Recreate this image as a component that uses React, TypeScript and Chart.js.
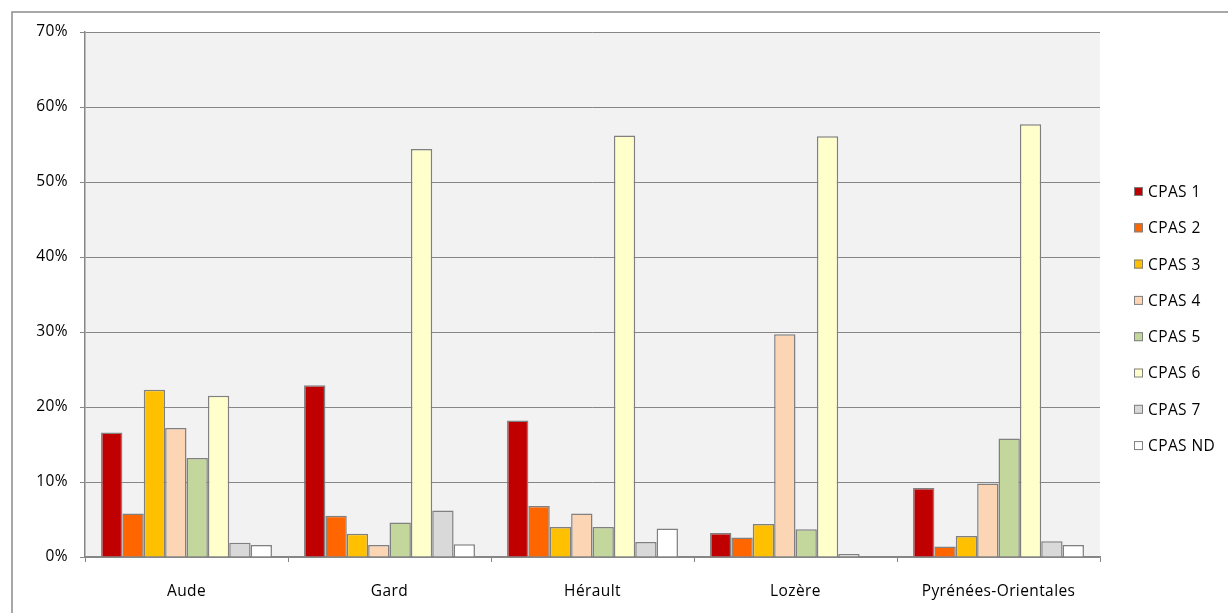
import React, { useEffect, useRef } from "react";
import { Chart, registerables } from "chart.js";

Chart.register(...registerables);

const categories = ["Aude", "Gard", "Hérault", "Lozère", "Pyrénées-Orientales"];
const seriesNames = ["CPAS 1", "CPAS 2", "CPAS 3", "CPAS 4", "CPAS 5", "CPAS 6", "CPAS 7", "CPAS ND"];
const cpas1 = [16.6, 22.9, 18.2, 3.2, 9.2];
const cpas2 = [5.8, 5.5, 6.8, 2.6, 1.4];
const cpas3 = [22.3, 3.1, 4.0, 4.4, 2.8];
const cpas4 = [17.2, 1.6, 5.8, 29.7, 9.8];
const cpas5 = [13.2, 4.6, 4.0, 3.7, 15.8];
const cpas6 = [21.5, 54.4, 56.2, 56.1, 57.7];
const cpas7 = [1.9, 6.2, 2.0, 0.4, 2.1];
const cpasND = [1.6, 1.7, 3.8, 0, 1.6];
const seriesValues = [cpas1, cpas2, cpas3, cpas4, cpas5, cpas6, cpas7, cpasND];
const seriesColors = ["#C00000", "#FF6600", "#FFC000", "#FCD5B5", "#C3D69B", "#FFFFCC", "#D9D9D9", "#FFFFFF"];
const yTicks = [0, 10, 20, 30, 40, 50, 60, 70];

const FONT = "'Open Sans', sans-serif";
const SPACING = "0.4px";
const FS = 15.5;

export default function App() {
  const ref = useRef<HTMLCanvasElement | null>(null);
  useEffect(() => {
    document.body.style.margin = "0";
    const canvas = ref.current;
    if (!canvas) return;
    const bgPlugin = {
      id: "bg",
      beforeInit(chart: any) {
        chart.ctx.letterSpacing = SPACING;
      },
      beforeUpdate(chart: any) {
        chart.ctx.letterSpacing = SPACING;
      },
      beforeDraw(chart: any) {
        const { ctx, chartArea } = chart;
        ctx.letterSpacing = SPACING;
        ctx.save();
        ctx.fillStyle = "#FFFFFF";
        ctx.fillRect(0, 0, chart.width, chart.height);
        ctx.fillStyle = "#F2F2F2";
        ctx.fillRect(chartArea.left, chartArea.top, chartArea.right - chartArea.left, chartArea.bottom - chartArea.top);
        ctx.strokeStyle = "#8C8C8C";
        ctx.lineWidth = 1.5;
        ctx.strokeRect(12, 12, chart.width + 10, chart.height + 10);
        ctx.restore();
      },
      afterDraw(chart: any) {
        const { ctx } = chart;
        ctx.save();
        ctx.font = `${FS}px ${FONT}`;
        ctx.letterSpacing = SPACING;
        ctx.textBaseline = "middle";
        ctx.textAlign = "left";
        chart.data.datasets.forEach((ds: any, i: number) => {
          const y = 191.5 + i * 36.3;
          ctx.fillStyle = ds.backgroundColor;
          ctx.fillRect(1134, y - 4.5, 9, 9);
          ctx.strokeStyle = "#808080";
          ctx.lineWidth = 1;
          ctx.strokeRect(1134.5, y - 4, 8, 8);
          ctx.fillStyle = "#000000";
          ctx.fillText(ds.label, 1148, y + 1);
        });
        ctx.restore();
      },
    };
    const chart = new Chart(canvas, {
      type: "bar",
      data: {
        labels: categories,
        datasets: seriesNames.map((name, i) => ({
          label: name,
          data: seriesValues[i],
          backgroundColor: seriesColors[i],
          borderColor: "#808080",
          borderWidth: 1.5,
          categoryPercentage: 0.842,
          barPercentage: 1,
        })),
      },
      options: {
        animation: false,
        responsive: false,
        maintainAspectRatio: false,
        layout: { padding: { left: 0, right: 128, top: 32, bottom: 0 } },
        plugins: { legend: { display: false }, tooltip: { enabled: false } },
        scales: {
          x: {
            offset: true,
            grid: {
              offset: true,
              drawOnChartArea: false,
              drawTicks: true,
              tickLength: 5,
              color: "#868686",
            },
            border: { color: "#868686", width: 1.5 },
            ticks: { color: "#000000", font: { family: FONT, size: FS }, padding: 20, maxRotation: 0 },
            afterFit(s: any) {
              s.height = 56;
            },
          },
          y: {
            min: 0,
            max: 70,
            afterBuildTicks(s: any) {
              s.ticks = yTicks.map((v) => ({ value: v }));
            },
            grid: { color: "#868686", lineWidth: 1, tickLength: 5 },
            border: { color: "#868686", width: 1.5 },
            ticks: {
              color: "#000000",
              font: { family: FONT, size: FS },
              padding: 12,
              callback: (v: any) => v + "%",
            },
            afterFit(s: any) {
              s.width = 85;
            },
          },
        },
      },
      plugins: [bgPlugin],
    });
    return () => chart.destroy();
  }, []);
  return <canvas ref={ref} width={1228} height={613} style={{ display: "block" }} />;
}
